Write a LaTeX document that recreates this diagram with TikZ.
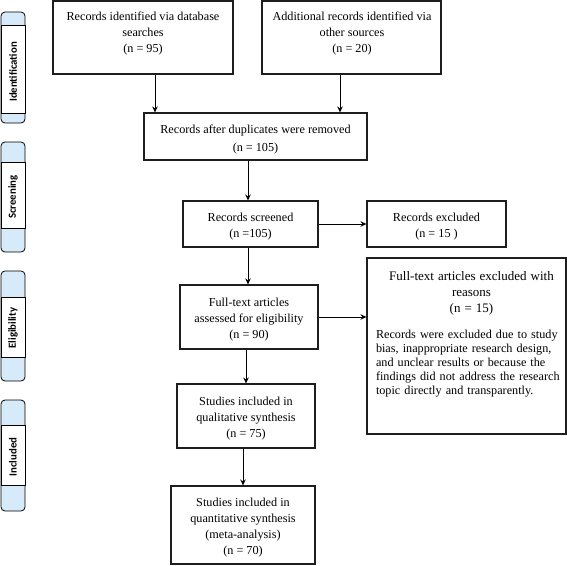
\documentclass[tikz,border=0pt]{standalone}
\usepackage{fontspec}
\setmainfont{Liberation Serif}
\newfontfamily\tabfont{Carlito}
\usetikzlibrary{arrows.meta}
\definecolor{tabblue}{RGB}{214,234,250}
\definecolor{boxline}{RGB}{30,30,30}
\newcommand\tstrut{\rule{0pt}{14.5pt}}
\begin{document}
\begin{tikzpicture}[x=1pt,y=-1pt,
  box/.style={draw=boxline, line width=1.1pt, inner sep=0pt, align=center,
    font=\fontsize{12.2}{16}\selectfont},
  txt/.style={inner sep=0pt, align=center, font=\fontsize{12.2}{16}\selectfont},
  arr/.style={draw=black, line width=0.9pt, -{Stealth[length=6pt,width=5.5pt]}},
  tabline/.style={draw=black, line width=0.8pt},
  tablabel/.style={rotate=90, inner sep=0pt, font=\tabfont\bfseries\fontsize{10.8}{13}\selectfont}]
\useasboundingbox (0,0) rectangle (567,565);

% side tabs
\draw[tabline, fill=tabblue, rounded corners=4pt] (1,12) rectangle (25,123);
\draw[tabline, fill=white] (1,25) rectangle (25,113);
\node[tablabel] (l1) at (13,72) {Identification};
\draw[tabline, fill=tabblue, rounded corners=4pt] (1,142) rectangle (25,252);
\draw[tabline, fill=white] (1,162) rectangle (25,228);
\node[tablabel] (l2) at (13,197) {Screening};
\draw[tabline, fill=tabblue, rounded corners=4pt] (1,271) rectangle (25,381);
\draw[tabline, fill=white] (1,297) rectangle (25,357);
\node[tablabel] (l3) at (13,328) {Eligibility};
\draw[tabline, fill=tabblue, rounded corners=4pt] (1,400) rectangle (25,511);
\draw[tabline, fill=white] (1,425) rectangle (25,485);
\node[tablabel] (l4) at (13,457) {Included};

% boxes
\node[box, minimum width=180pt, minimum height=73pt] (b1) at (143,37.5) {};
\node[txt] (t1) at (143,34) {Records identified via database\\searches\\(n = 95)};
\node[box, minimum width=179pt, minimum height=73pt] (b2) at (351.5,37.5) {};
\node[txt] (t2) at (352,34) {Additional records identified via\\other sources\\(n = 20)};
\node[box, minimum width=223pt, minimum height=47pt, font=\fontsize{12.2}{18.5}\selectfont] (b3) at (255.5,136.5) {\tstrut Records after duplicates were removed\\(n = 105)};
\node[box, minimum width=135pt, minimum height=46pt] (b4) at (250.5,224) {\tstrut Records screened\\(n =105)};
\node[box, minimum width=139pt, minimum height=46pt] (b5) at (436.5,224) {\tstrut Records excluded\\(n = 15 )};
\node[box, minimum width=138pt, minimum height=64pt] (b6) at (249,317) {\tstrut Full-text articles\\assessed for eligibility\\(n = 90)};
\node[box, minimum width=199pt, minimum height=176pt] (b7) at (466.5,346) {};
\node[inner sep=0pt, text width=191pt, align=left, font=\fontsize{12.2}{14}\selectfont] (t7) at (471.5,334.5) {%
{\centering\fontsize{13}{16}\selectfont Full-text articles excluded with\\reasons\\(n = 15)\par}%
\vspace{12pt}%
Records were excluded due to study\\
bias, inappropriate research design,\\
and unclear results or because the\\
findings did not address the research\\
topic directly and transparently.};
\node[box, minimum width=138pt, minimum height=64pt] (b8) at (246,416) {\tstrut Studies included in\\qualitative synthesis\\(n = 75)};
\node[box, minimum width=144pt, minimum height=78pt] (b9) at (243,525) {\tstrut Studies included in\\quantitative synthesis\\(meta-analysis)\\(n = 70)};

% connectors
\coordinate (c1) at (155,0);
\coordinate (c2) at (340,0);
\coordinate (c3) at (248,0);
\draw[arr] (c1 |- b1.south) -- (c1 |- b3.north);
\draw[arr] (c2 |- b2.south) -- (c2 |- b3.north);
\draw[arr] (c3 |- b3.south) -- (c3 |- b4.north);
\draw[arr] (b4.east) -- (b5.west);
\draw[arr] (c3 |- b4.south) -- (c3 |- b6.north);
\draw[arr] (b6.east) -- (b7.west |- b6.east);
\draw[arr] (b8.north |- b6.south) -- (b8.north);
\draw[arr] (b9.north |- b8.south) -- (b9.north);
\end{tikzpicture}
\end{document}
